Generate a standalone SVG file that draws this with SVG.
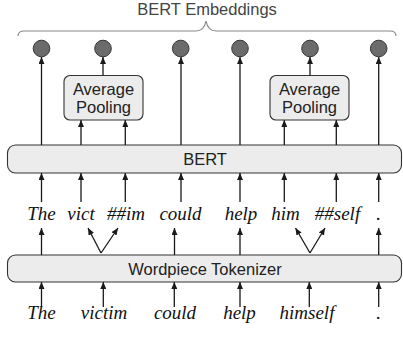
<svg xmlns="http://www.w3.org/2000/svg" width="403" height="340" viewBox="0 0 403 340">
<defs>
<marker id="ah" markerUnits="userSpaceOnUse" markerWidth="8" markerHeight="6" refX="7" refY="3" orient="auto">
<path d="M0,0 L7,3 L0,6 z" fill="#1a1a1a"/>
</marker>
<style>
.box{fill:#ececec;stroke:#333;stroke-width:1.1}
.lbl{font-family:"Liberation Sans",Arial,sans-serif;font-size:16.5px;fill:#222;text-anchor:middle}
.tok{font-family:"Liberation Serif","Times New Roman","DejaVu Serif",serif;font-style:italic;font-size:19px;fill:#111;text-anchor:middle}
.emb{fill:#6b6b6b;stroke:#333;stroke-width:1}
.ar{stroke:#1a1a1a;stroke-width:1.3;fill:none;marker-end:url(#ah)}
</style>
</defs>
<g id="brace">
<path d="M18,36 Q18,31 24,31 L196,31 Q204,31 206,21 Q208,31 216,31 L390,31 Q396,31 396,36" fill="none" stroke="#888" stroke-width="1.2"/>
<text class="lbl" x="207" y="15" style="fill:#444">BERT Embeddings</text>
</g>
<g id="embeddings">
<circle class="emb" cx="41.5" cy="48.5" r="8.3"/>
<circle class="emb" cx="103" cy="48.5" r="8.3"/>
<circle class="emb" cx="180.7" cy="48.5" r="8.3"/>
<circle class="emb" cx="240" cy="48.5" r="8.3"/>
<circle class="emb" cx="310" cy="48.5" r="8.3"/>
<circle class="emb" cx="378.7" cy="48.5" r="8.3"/>
</g>
<g id="pool1">
<rect class="box" x="64" y="75.5" width="79" height="44.5" rx="6"/>
<text class="lbl" x="103.5" y="95">Average</text>
<text class="lbl" x="103.5" y="113">Pooling</text>
</g>
<g id="pool2">
<rect class="box" x="270" y="75.5" width="79" height="44.5" rx="6"/>
<text class="lbl" x="309.5" y="95">Average</text>
<text class="lbl" x="309.5" y="113">Pooling</text>
</g>
<g id="bert">
<rect class="box" x="7.5" y="145" width="394" height="28" rx="8"/>
<text class="lbl" x="205" y="165">BERT</text>
</g>
<g id="wordpiece">
<rect class="box" x="7.5" y="255" width="394" height="27" rx="8"/>
<text class="lbl" x="205" y="275">Wordpiece Tokenizer</text>
</g>
<g id="tokens" font-family="Liberation Serif, Times New Roman, serif" font-style="italic">
<text class="tok" x="41.5" y="220">The</text>
<text class="tok" x="81" y="220">vict</text>
<text class="tok" x="126" y="220">##im</text>
<text class="tok" x="180.5" y="220">could</text>
<text class="tok" x="241" y="220">help</text>
<text class="tok" x="285.5" y="220">him</text>
<text class="tok" x="337.5" y="220">##self</text>
<text class="tok" x="378.7" y="220">.</text>
</g>
<g id="words" font-family="Liberation Serif, Times New Roman, serif" font-style="italic">
<text class="tok" x="41.5" y="319">The</text>
<text class="tok" x="104" y="319">victim</text>
<text class="tok" x="175" y="319">could</text>
<text class="tok" x="239.5" y="319">help</text>
<text class="tok" x="307" y="319">himself</text>
<text class="tok" x="378.7" y="319">.</text>
</g>
<g id="connectors">
<line class="ar" x1="41.5" y1="145" x2="41.5" y2="57"/>
<line class="ar" x1="81" y1="145" x2="81" y2="120"/>
<line class="ar" x1="125.3" y1="145" x2="125.3" y2="120"/>
<line class="ar" x1="181" y1="145" x2="181" y2="57"/>
<line class="ar" x1="240" y1="145" x2="240" y2="57"/>
<line class="ar" x1="284.3" y1="145" x2="284.3" y2="120"/>
<line class="ar" x1="336.3" y1="145" x2="336.3" y2="120"/>
<line class="ar" x1="378.7" y1="145" x2="378.7" y2="57"/>
<line class="ar" x1="103" y1="75.5" x2="103" y2="57"/>
<line class="ar" x1="310" y1="75.5" x2="310" y2="57"/>
<line class="ar" x1="41.5" y1="202" x2="41.5" y2="173"/>
<line class="ar" x1="81" y1="202" x2="81" y2="173"/>
<line class="ar" x1="125.3" y1="202" x2="125.3" y2="173"/>
<line class="ar" x1="181" y1="202" x2="181" y2="173"/>
<line class="ar" x1="240" y1="202" x2="240" y2="173"/>
<line class="ar" x1="284.3" y1="202" x2="284.3" y2="173"/>
<line class="ar" x1="336.3" y1="202" x2="336.3" y2="173"/>
<line class="ar" x1="378.7" y1="202" x2="378.7" y2="173"/>
<line class="ar" x1="41.5" y1="255" x2="41.5" y2="228"/>
<line class="ar" x1="174.5" y1="255" x2="174.5" y2="228"/>
<line class="ar" x1="240" y1="255" x2="240" y2="228"/>
<line class="ar" x1="378.7" y1="255" x2="378.7" y2="228"/>
<line class="ar" x1="101" y1="253" x2="88" y2="228"/>
<line class="ar" x1="101" y1="253" x2="118" y2="228"/>
<line class="ar" x1="310" y1="253" x2="295.5" y2="228"/>
<line class="ar" x1="310" y1="253" x2="325" y2="228"/>
<line class="ar" x1="41.5" y1="307" x2="41.5" y2="282"/>
<line class="ar" x1="103.3" y1="307" x2="103.3" y2="282"/>
<line class="ar" x1="174.3" y1="307" x2="174.3" y2="282"/>
<line class="ar" x1="240" y1="307" x2="240" y2="282"/>
<line class="ar" x1="309.3" y1="307" x2="309.3" y2="282"/>
<line class="ar" x1="378.7" y1="307" x2="378.7" y2="282"/>
</g>
</svg>
